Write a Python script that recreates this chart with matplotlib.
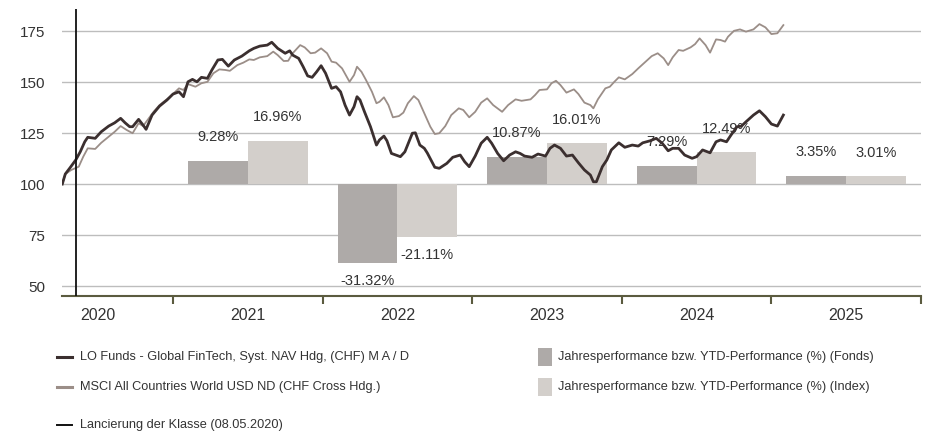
import matplotlib
matplotlib.use("Agg")
import matplotlib.pyplot as plt
from matplotlib.lines import Line2D
from matplotlib.patches import Rectangle

plt.rcParams['font.family'] = ['Liberation Sans', 'DejaVu Sans']

# performance index (start = 100), dates as decimal years
fund_t = [2020.26, 2020.28, 2020.31, 2020.35, 2020.38, 2020.41, 2020.43, 2020.48, 2020.52, 2020.57,
          2020.61, 2020.65, 2020.68, 2020.71, 2020.73, 2020.77, 2020.80, 2020.82, 2020.86, 2020.91,
          2020.96, 2021.00, 2021.04, 2021.07, 2021.10, 2021.13, 2021.16, 2021.19, 2021.23, 2021.26,
          2021.30, 2021.33, 2021.37, 2021.41, 2021.46, 2021.51, 2021.54, 2021.58, 2021.63, 2021.66,
          2021.70, 2021.75, 2021.78, 2021.80, 2021.84, 2021.87, 2021.90, 2021.93, 2021.96, 2021.99,
          2022.02, 2022.06, 2022.09, 2022.12, 2022.15, 2022.18, 2022.21, 2022.23, 2022.25, 2022.28,
          2022.32, 2022.36, 2022.38, 2022.41, 2022.43, 2022.46, 2022.49, 2022.52, 2022.55, 2022.60,
          2022.62, 2022.65, 2022.68, 2022.70, 2022.75, 2022.78, 2022.83, 2022.87, 2022.92, 2022.95,
          2022.98, 2023.02, 2023.06, 2023.10, 2023.13, 2023.17, 2023.21, 2023.25, 2023.29, 2023.32,
          2023.35, 2023.40, 2023.44, 2023.49, 2023.52, 2023.55, 2023.59, 2023.63, 2023.67, 2023.71,
          2023.75, 2023.79, 2023.81, 2023.83, 2023.87, 2023.90, 2023.93, 2023.98, 2024.02, 2024.07,
          2024.11, 2024.14, 2024.19, 2024.23, 2024.27, 2024.31, 2024.34, 2024.38, 2024.42, 2024.47,
          2024.50, 2024.54, 2024.59, 2024.63, 2024.66, 2024.70, 2024.73, 2024.77, 2024.80, 2024.83,
          2024.88, 2024.92, 2024.96, 2025.00, 2025.04, 2025.08]
fund_v = [100.0, 104.9, 107.8, 111.8, 115.8, 120.7, 122.9, 122.4, 125.6, 128.4,
          130.0, 132.2, 130.0, 128.1, 128.1, 131.7, 128.9, 126.8, 133.8, 138.2,
          141.2, 144.1, 145.2, 142.8, 150.1, 151.3, 150.1, 152.3, 151.8, 155.9,
          160.8, 161.1, 157.8, 160.8, 162.7, 165.3, 166.5, 167.6, 168.1, 169.5,
          166.5, 164.1, 165.3, 163.2, 161.6, 157.5, 153.0, 152.3, 155.0, 158.0,
          154.3, 146.9, 147.7, 145.2, 138.7, 133.8, 137.9, 142.8, 141.2, 135.4,
          128.1, 119.1, 121.6, 123.5, 121.2, 115.0, 114.2, 113.4, 115.8, 124.9,
          125.1, 119.1, 117.5, 115.2, 108.2, 107.7, 110.1, 113.1, 114.2, 110.9,
          108.5, 113.7, 120.0, 122.9, 120.0, 115.0, 111.4, 114.2, 115.8, 115.0,
          113.7, 113.1, 114.7, 113.7, 117.5, 119.1, 117.5, 113.7, 114.2, 110.4,
          106.9, 104.4, 101.1, 101.1, 108.5, 111.8, 116.7, 120.2, 118.0, 119.1,
          118.6, 120.2, 121.2, 122.4, 120.0, 116.3, 117.5, 117.5, 114.2, 112.6,
          113.4, 116.7, 115.3, 120.7, 121.6, 120.7, 124.0, 128.1, 128.4, 130.5,
          133.8, 135.9, 133.0, 129.4, 128.4, 133.8]

index_t = [2020.26, 2020.28, 2020.32, 2020.37, 2020.40, 2020.43, 2020.48, 2020.52, 2020.57, 2020.61,
           2020.65, 2020.69, 2020.73, 2020.77, 2020.80, 2020.87, 2020.91, 2020.98, 2021.04, 2021.07,
           2021.10, 2021.15, 2021.19, 2021.23, 2021.27, 2021.31, 2021.35, 2021.38, 2021.43, 2021.47,
           2021.51, 2021.54, 2021.58, 2021.63, 2021.67, 2021.70, 2021.74, 2021.77, 2021.80, 2021.85,
           2021.88, 2021.92, 2021.95, 2021.99, 2022.03, 2022.06, 2022.09, 2022.13, 2022.18, 2022.21,
           2022.23, 2022.26, 2022.29, 2022.33, 2022.36, 2022.38, 2022.41, 2022.44, 2022.47, 2022.51,
           2022.54, 2022.57, 2022.61, 2022.64, 2022.67, 2022.68, 2022.72, 2022.75, 2022.78, 2022.82,
           2022.86, 2022.91, 2022.94, 2022.98, 2023.02, 2023.06, 2023.10, 2023.14, 2023.20, 2023.24,
           2023.29, 2023.33, 2023.39, 2023.42, 2023.45, 2023.50, 2023.53, 2023.56, 2023.59, 2023.63,
           2023.68, 2023.71, 2023.75, 2023.79, 2023.81, 2023.84, 2023.89, 2023.92, 2023.95, 2023.98,
           2024.02, 2024.07, 2024.11, 2024.16, 2024.20, 2024.24, 2024.28, 2024.31, 2024.34, 2024.38,
           2024.41, 2024.46, 2024.49, 2024.52, 2024.56, 2024.59, 2024.63, 2024.66, 2024.69, 2024.71,
           2024.75, 2024.79, 2024.83, 2024.88, 2024.92, 2024.96, 2025.00, 2025.04, 2025.08]
index_v = [100.0, 104.9, 106.9, 108.5, 113.4, 117.5, 117.2, 120.2, 123.2, 125.6,
           128.4, 126.5, 124.9, 129.8, 128.4, 135.4, 138.7, 142.8, 146.9, 146.1,
           149.0, 147.7, 149.4, 150.1, 154.3, 156.2, 155.9, 155.5, 158.3, 159.5,
           161.1, 160.8, 162.1, 162.7, 164.9, 163.2, 160.3, 160.4, 164.1, 168.1,
           167.0, 164.1, 164.4, 166.5, 164.1, 160.0, 159.5, 156.7, 150.1, 153.4,
           157.5, 155.0, 151.0, 145.2, 139.6, 140.3, 142.5, 138.7, 132.7, 133.3,
           135.0, 139.6, 143.1, 141.2, 136.3, 134.7, 128.1, 124.5, 124.9, 128.4,
           133.8, 137.1, 136.3, 132.7, 135.4, 139.9, 142.0, 138.7, 135.4, 138.7,
           141.5, 140.8, 141.5, 143.6, 146.1, 146.4, 149.4, 150.6, 148.5, 144.8,
           146.4, 144.1, 139.9, 138.7, 137.1, 141.5, 146.9, 147.7, 150.1, 152.3,
           151.3, 153.9, 156.7, 160.0, 162.7, 164.1, 161.6, 158.3, 162.1, 165.7,
           165.3, 167.0, 168.6, 171.4, 168.1, 164.4, 170.9, 170.6, 169.8, 172.2,
           175.1, 175.8, 174.7, 175.8, 178.4, 176.8, 173.5, 173.9, 177.9]

# calendar year / YTD performance in %
years = [2021, 2022, 2023, 2024, 2025]
perf_fund = [9.28, -31.32, 10.87, 7.29, 3.35]
perf_index = [16.96, -21.11, 16.01, 12.49, 3.01]
year_labels = ['2020', '2021', '2022', '2023', '2024', '2025']
launch = 2020.35  # 08.05.2020

c_fund = '#3b2f2f'
c_index = '#9b8e88'
c_bar_fund = '#aeaaa8'
c_bar_index = '#d3cfcb'
c_axis = '#5b5b3f'
c_text = '#333333'

W, H = 928, 434
fig = plt.figure(figsize=(W / 100, H / 100), dpi=100)
ax = fig.add_axes([62 / W, (H - 296) / H, (921 - 62) / W, (296 - 9) / H])
axb = ax.twinx()
axl = ax.twinx()

ylo, yhi = 45.1, 185.8
ax.set_ylim(ylo, yhi)
axl.set_ylim(ylo, yhi)
scale = 0.806  # bar % per index point
axb.set_ylim((ylo - 100) * scale, (yhi - 100) * scale)
ax.set_xlim(2020.258, 2026.0)

# grid + y labels
ax.set_yticks([50, 75, 100, 125, 150, 175])
ax.yaxis.grid(True, color='#bdbdbd', lw=1)
ax.tick_params(axis='y', length=0, pad=12, labelsize=11, labelcolor=c_text)

# x axis: year boundaries as ticks, labels centred in each year
ax.set_xticks([2021, 2022, 2023, 2024, 2025, 2026])
ax.set_xticklabels([])
ax.set_xticks([y + 0.5 for y in range(2020, 2026)], minor=True)
ax.set_xticklabels(year_labels, minor=True)
ax.tick_params(axis='x', which='major', direction='out', length=6, width=1.5, color=c_axis)
ax.tick_params(axis='x', which='minor', length=0, pad=9, labelsize=11.5, labelcolor=c_text)
for s in ['top', 'right', 'left']:
    ax.spines[s].set_visible(False)
ax.spines['bottom'].set_color(c_axis)
ax.spines['bottom'].set_linewidth(1.5)

for a in (axb, axl):
    a.set_yticks([])
    for s in a.spines.values():
        s.set_visible(False)

# bars
bw = 0.4
xf = [y + 0.5 - bw / 2 for y in years]
xi = [y + 0.5 + bw / 2 for y in years]
axb.bar(xf, perf_fund, width=bw, color=c_bar_fund, lw=0)
axb.bar(xi, perf_index, width=bw, color=c_bar_index, lw=0)
for xs, vals in ((xf, perf_fund), (xi, perf_index)):
    for x, v in zip(xs, vals):
        axb.annotate(f"{v:.2f}%", xy=(x, v), xytext=(0, 17 if v > 0 else -12.5),
                     textcoords='offset points', ha='center', va='center',
                     fontsize=10.5, color=c_text)

# lines
axl.plot(index_t, index_v, color=c_index, lw=1.3)
axl.plot(fund_t, fund_v, color=c_fund, lw=2)
axl.axvline(launch, color='#111111', lw=1.3)

# legend, drawn by hand
def fx(px):
    return px / W

def fy(py):
    return 1 - py / H

leg = [(357, c_fund, 2.2, 'LO Funds - Global FinTech, Syst. NAV Hdg, (CHF) M A / D'),
       (387, c_index, 2.2, 'MSCI All Countries World USD ND (CHF Cross Hdg.)'),
       (425, '#111111', 1.4, 'Lancierung der Klasse (08.05.2020)')]
for py, col, lw, txt in leg:
    fig.add_artist(Line2D([fx(57), fx(72)], [fy(py), fy(py)], color=col, lw=lw))
    fig.text(fx(80), fy(py), txt, fontsize=9.2, color=c_text, va='center')

leg2 = [(357, c_bar_fund, 'Jahresperformance bzw. YTD-Performance (%) (Fonds)'),
        (387, c_bar_index, 'Jahresperformance bzw. YTD-Performance (%) (Index)')]
for py, col, txt in leg2:
    fig.add_artist(Rectangle((fx(538), fy(py + 9)), 14 / W, 18 / H, color=col, lw=0))
    fig.text(fx(558), fy(py), txt, fontsize=9.2, color=c_text, va='center')

fig.savefig('out.png', dpi=100)
